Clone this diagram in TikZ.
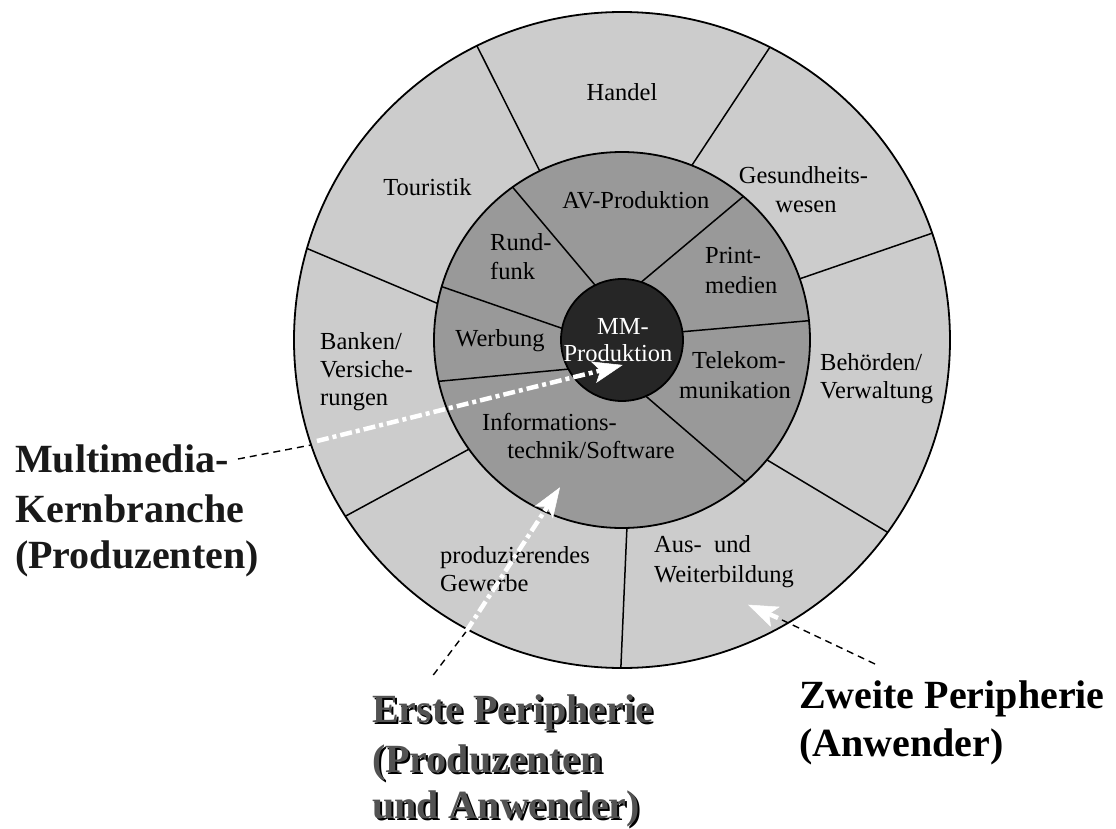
\documentclass[tikz,border=0pt]{standalone}
\usepackage{fontspec}
\setmainfont{Liberation Serif}
\usetikzlibrary{arrows.meta}
\definecolor{ringout}{gray}{0.8}
\definecolor{ringmid}{gray}{0.6}
\definecolor{corecol}{gray}{0.15}
\definecolor{fronttxt}{gray}{0.32}
\tikzset{
  lbl/.style={font=\fontsize{24.5}{29}\selectfont, inner sep=0pt, anchor=base},
  lblw/.style={lbl, anchor=base west},
  big/.style={font=\fontsize{40}{48}\selectfont\bfseries, inner sep=0pt, anchor=base west},
  disc/.style={circle, draw=black, line width=1.8pt, inner sep=0pt, outer sep=0pt},
  divider/.style={line width=1.5pt},
  whitearrow/.style={white, line width=4.5pt, dash pattern=on 12pt off 4pt on 4pt off 4pt,
    -{Stealth[length=30pt,width=22pt,inset=7pt,line width=0.5pt,fill=white]}},
  blackdash/.style={black, line width=1.4pt, dash pattern=on 7pt off 5pt},
}
\begin{document}
\begin{tikzpicture}[x=1pt,y=1pt]
\useasboundingbox (-622,-488) rectangle (494,340);
% outer ring
\node[disc, fill=ringout, minimum size=656pt] (outer) at (0,0) {};
\draw[divider] (115.95:188) -- (116.25:328);
\draw[divider] (68.2:188) -- (63.2:328);
\draw[divider] (19:188) -- (19:328);
\draw[divider] (-39.6:188) -- (-35.9:328);
\draw[divider] (-88.5:188) -- (-90.2:328);
\draw[divider] (215.5:188) -- (212.5:328);
\draw[divider] (168.8:188) -- (163.8:328);
% middle ring
\node[disc, fill=ringmid, minimum size=376pt] (middle) at (0,0) {};
\draw[divider] (116.1:61) -- (125.6:188);
\draw[divider] (71.6:61) -- (49.8:188);
\draw[divider] (7.8:61) -- (5.9:188);
\draw[divider] (-67:61) -- (-49:188);
\draw[divider] (208.5:61) -- (192.7:188);
\draw[divider] (169:61) -- (163.5:188);
% core
\node[disc, fill=corecol, minimum size=122pt] (core) at (0,0) {};
% outer labels
\node[lbl] (handel) at (0,240) {Handel};
\node[lbl] (tour) at (-194.5,145) {Touristik};
\node[lbl] (ges1) at (181.5,156.5) {Gesundheits-};
\node[lbl] (ges2) at (184,128) {wesen};
\node[lblw] (bank1) at (-302,-9.5) {Banken/};
\node[lblw] (bank2) at (-302,-37.7) {Versiche-};
\node[lblw] (bank3) at (-302,-65.5) {rungen};
\node[lblw] (beh1) at (198,-30) {Behörden/};
\node[lblw] (beh2) at (198,-58.5) {Verwaltung};
\node[lblw] (prod1) at (-182,-223) {produzierendes};
\node[lblw] (prod2) at (-182,-251) {Gewerbe};
\node[lblw] (aus1) at (32,-212) {Aus-~ und};
\node[lblw] (aus2) at (32,-242) {Weiterbildung};
% middle labels
\node[lbl] (av) at (13.8,132) {AV-Produktion};
\node[lblw] (rund1) at (-132,90) {Rund-};
\node[lblw] (rund2) at (-132,61) {funk};
\node[lblw] (print1) at (83,76.7) {Print-};
\node[lblw] (print2) at (83,46.7) {medien};
\node[lbl] (werb) at (-122,-6.7) {Werbung};
\node[lbl] (tel1) at (117,-28.3) {Telekom-};
\node[lbl] (tel2) at (113,-58.3) {munikation};
\node[lbl] (inf1) at (-72.5,-90) {Informations-};
\node[lbl] (inf2) at (-31,-118.3) {technik/Software};
% core labels
\node[lbl, white] (mm1) at (1,5.7) {MM-};
\node[lbl, white] (mm2) at (-4,-21.7) {Produktion};
% big labels
\node[big, text=black!90] (kern1) at (-607,-132) {Multimedia-};
\node[big, text=black!90] (kern2) at (-607,-182) {Kernbranche};
\node[big, text=black!90] (kern3) at (-607,-228) {(Produzenten)};
\node[big, black] (ep1s) at (-248,-384) {Erste Peripherie};
\node[big, black] (ep2s) at (-248,-434) {(Produzenten};
\node[big, black] (ep3s) at (-248,-480) {und Anwender)};
\node[big, fronttxt] (ep1) at (-250,-382) {Erste Peripherie};
\node[big, fronttxt] (ep2) at (-250,-432) {(Produzenten};
\node[big, fronttxt] (ep3) at (-250,-478) {und Anwender)};
\node[big] (zw1) at (177,-368) {Zweite Peripherie};
\node[big] (zw2) at (177,-416) {(Anwender)};
% pointers
\coordinate (m0) at (-384,-119);
\coordinate (m1) at (-311,-105);
\coordinate (m2) at (-305,-101);
\coordinate (mtip) at (0.7,-25);
\draw[blackdash] (m0) -- (m1);
\draw[whitearrow] (m2) -- (mtip);
\coordinate (e0) at (-188.7,-335);
\coordinate (e1) at (-156,-291.7);
\coordinate (etip) at (-62,-147.3);
\draw[blackdash] (e0) -- (e1);
\draw[whitearrow] (e1) -- (etip);
\coordinate (z0) at (253,-324);
\coordinate (z1) at (158,-279);
\coordinate (z2) at (156,-278);
\coordinate (ztip) at (126,-264.7);
\draw[blackdash] (z0) -- (z1);
\draw[whitearrow] (z2) -- (ztip);
\end{tikzpicture}
\end{document}
